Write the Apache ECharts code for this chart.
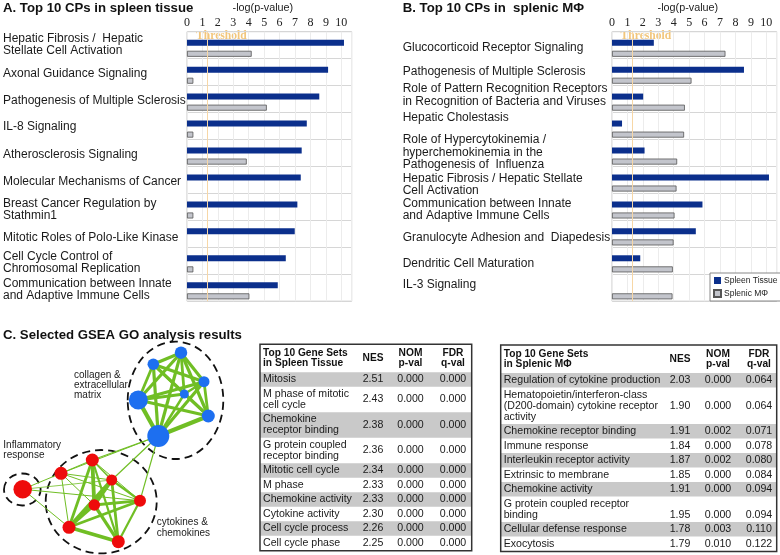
<!DOCTYPE html>
<html><head><meta charset="utf-8">
<script src="https://cdn.jsdelivr.net/npm/echarts@6/dist/echarts.min.js"></script>
<style>html,body{margin:0;padding:0;background:#fff}#c{width:780px;height:555px}</style>
</head><body><div id="c"></div>
<script>
// ---------- Panel A data ----------
const cpTissue = ["Hepatic Fibrosis /  Hepatic\nStellate Cell Activation", "Axonal Guidance Signaling", "Pathogenesis of Multiple Sclerosis", "IL-8 Signaling", "Atherosclerosis Signaling", "Molecular Mechanisms of Cancer", "Breast Cancer Regulation by\nStathmin1", "Mitotic Roles of Polo-Like Kinase", "Cell Cycle Control of\nChromosomal Replication", "Communication between Innate\nand Adaptive Immune Cells"];
const cpTissue_spleen = [10.17, 9.14, 8.57, 7.76, 7.43, 7.37, 7.15, 6.98, 6.40, 5.88];
const cpTissue_macro = [4.19, 0.41, 5.17, 0.41, 3.87, null, 0.41, null, 0.41, 4.04];
// ---------- Panel B data ----------
const cpMacro = ["Glucocorticoid Receptor Signaling", "Pathogenesis of Multiple Sclerosis", "Role of Pattern Recognition Receptors\nin Recognition of Bacteria and Viruses", "Hepatic Cholestasis", "Role of Hypercytokinemia /\nhyperchemokinemia in the\nPathogenesis of  Influenza", "Hepatic Fibrosis / Hepatic Stellate\nCell Activation", "Communication between Innate\nand Adaptive Immune Cells", "Granulocyte Adhesion and  Diapedesis", "Dendritic Cell Maturation", "IL-3 Signaling"];
const cpMacro_spleen = [2.71, 8.55, 2.02, 0.65, 2.11, 10.17, 5.86, 5.43, 1.83, null];
const cpMacro_macro = [7.35, 5.15, 4.72, 4.67, 4.22, 4.18, 4.05, 3.99, 3.94, 3.92];
const xTicks = [0, 1, 2, 3, 4, 5, 6, 7, 8, 9, 10];
const threshold = 1.3;
const seriesNames = ["Spleen Tissue", "Splenic MΦ"];
// ---------- Panel C tables ----------
const gsTissueHead = ["Top 10 Gene Sets\nin Spleen Tissue", "NES", "NOM\np-val", "FDR\nq-val"];
const gsTissueName = ["Mitosis", "M phase of mitotic\ncell cycle", "Chemokine\nreceptor binding", "G protein coupled\nreceptor binding", "Mitotic cell cycle", "M phase", "Chemokine activity", "Cytokine activity", "Cell cycle process", "Cell cycle phase"];
const gsTissueNES = ["2.51", "2.43", "2.38", "2.36", "2.34", "2.33", "2.33", "2.30", "2.26", "2.25"];
const gsTissueNOM = ["0.000", "0.000", "0.000", "0.000", "0.000", "0.000", "0.000", "0.000", "0.000", "0.000"];
const gsTissueFDR = ["0.000", "0.000", "0.000", "0.000", "0.000", "0.000", "0.000", "0.000", "0.000", "0.000"];
const gsMacroHead = ["Top 10 Gene Sets\nin Splenic MΦ", "NES", "NOM\np-val", "FDR\nq-val"];
const gsMacroName = ["Regulation of cytokine production", "Hematopoietin/interferon-class\n(D200-domain) cytokine receptor\nactivity", "Chemokine receptor binding", "Immune response", "Interleukin receptor activity", "Extrinsic to membrane", "Chemokine activity", "G protein coupled receptor\nbinding", "Cellular defense response", "Exocytosis"];
const gsMacroNES = ["2.03", "1.90", "1.91", "1.84", "1.87", "1.85", "1.91", "1.95", "1.78", "1.79"];
const gsMacroNOM = ["0.000", "0.000", "0.002", "0.000", "0.002", "0.000", "0.000", "0.000", "0.003", "0.010"];
const gsMacroFDR = ["0.064", "0.064", "0.071", "0.078", "0.080", "0.084", "0.094", "0.094", "0.110", "0.122"];
// ---------- Panel C network ----------
const netX = [181, 153.3, 204, 184.3, 138.3, 208.3, 158.3, 92.3, 61, 111.7, 22.7, 94.3, 140, 69, 118.3];
const netY = [352.7, 364.3, 381.7, 394, 400, 416, 436, 460, 473.3, 480, 489.3, 505, 500.7, 527.3, 541.7];
const netSize = [12.5, 11.5, 11, 9, 19, 13, 22, 13, 13, 11, 18.5, 11.5, 12, 13, 13];
const netGroup = ["collagen", "collagen", "collagen", "collagen", "collagen", "collagen", "collagen", "cytokine", "cytokine", "cytokine", "inflam", "cytokine", "cytokine", "cytokine", "cytokine"];
const netLinks = [
  [0,1,3.2],[0,2,3.2],[0,4,3.2],[0,5,3.2],[0,6,3.2],[0,3,2.8],[1,2,3.2],[1,3,2.8],[1,5,3.2],[1,6,3.2],[1,4,2.8],[2,4,3.2],[2,6,3.2],[2,5,2.8],[3,4,2.8],[3,6,2.4],[4,5,3.2],[4,6,4.2],[5,6,4.2],[2,3,2.4],[3,5,2.4],
  [7,11,3.8],[7,13,2.8],[7,14,2.2],[7,9,1.6],[7,8,1],[7,12,1],
  [9,11,3.8],[9,13,3.8],[9,14,2.8],[9,12,2.2],[9,8,1],
  [11,13,3.2],[11,14,3.2],[11,12,2.8],[11,8,1],
  [12,13,2.8],[12,14,2.2],[12,8,1],[13,14,3.8],[13,8,1],
  [10,8,1],[10,12,1],[10,13,1],[10,9,0.8],
  [6,7,1.2],[6,9,1.2],[6,12,1.2],[6,8,1]
];

const FF = "Liberation Sans";
const BLUE = "#0b2f8c", GRAY = "#c3c5cc";
const chart = echarts.init(document.getElementById('c'), null, {renderer: 'canvas'});

// label nudges (px, + = down) to follow the original typesetting
const labelShiftA = [-0.5, 2, 2, 0.5, 2, 2, 3, 3.5, 1.7, 1.7];
const labelShiftB = [2.7, -0.5, -4, -8.7, -0.6, 4.7, 2.7, 3.5, 2.5, -2.8];
function labelCfg(margin, shifts) {
  const rich = {};
  shifts.forEach((s, i) => {
    const h = Math.max(0.5, Math.abs(s) * 2);
    rich['sp' + i] = {fontSize: 1, lineHeight: h, height: h};
  });
  return {
    align: 'left', margin: margin, interval: 0, fontFamily: FF, fontSize: 12, lineHeight: 12.3, color: '#1a1a1a',
    rich: rich,
    formatter: (v, i) => {
      const s = shifts[i] || 0;
      if (Math.abs(s) < 0.3) return v;
      return s > 0 ? '{sp' + i + '| }\n' + v : v + '\n{sp' + i + '| }';
    }
  };
}
function xAxisCfg(gi) {
  return {
    type: 'value', gridIndex: gi, position: 'top', min: xTicks[0], max: 10.67, interval: 1,
    name: '-log(p-value)', nameLocation: 'middle', nameGap: 18,
    nameTextStyle: {fontFamily: FF, fontSize: 10.8, color: '#222', padding: [0, 13, 0, 0]},
    axisLine: {show: false}, axisTick: {show: false},
    axisLabel: {fontFamily: 'Liberation Serif', fontSize: 12, color: '#222', margin: 2.5, showMaxLabel: false,
      formatter: v => (xTicks.indexOf(v) >= 0 ? String(v) : '')},
    splitLine: {show: true, lineStyle: {color: '#ececec', width: 1}}
  };
}
function yAxisCfg(gi, names, margin, shifts) {
  return {
    type: 'category', gridIndex: gi, inverse: true, data: names,
    axisLine: {show: false}, axisTick: {show: false},
    axisLabel: labelCfg(margin, shifts),
    splitLine: {show: true, lineStyle: {color: '#d6d6d6', width: 1}}
  };
}
function barSeries(gi, spleen, macro) {
  return [
    {type: 'bar', name: 'spacer' + gi, xAxisIndex: gi, yAxisIndex: gi, barWidth: 3.3, barGap: '85%', silent: true,
      data: spleen.map(() => null), itemStyle: {color: 'rgba(0,0,0,0)'}},
    {type: 'bar', name: seriesNames[0], xAxisIndex: gi, yAxisIndex: gi, barWidth: 6, barGap: '85%', data: spleen,
      itemStyle: {color: BLUE},
      markLine: {silent: true, symbol: 'none', label: {show: false}, lineStyle: {color: '#f7d7a6', width: 1, type: 'solid'}, data: [{xAxis: threshold}]}},
    {type: 'bar', name: seriesNames[1], xAxisIndex: gi, yAxisIndex: gi, barWidth: 6, barGap: '85%', data: macro,
      itemStyle: {color: GRAY, borderColor: '#555', borderWidth: 0.8}}
  ];
}

// network graph data
const netColor = {collagen: '#1d6ff0', cytokine: '#ee0b0b', inflam: '#ee0b0b'};
const graphNodes = netX.map((x, i) => ({
  name: 'n' + i, value: [x, netY[i]], symbolSize: netSize[i],
  itemStyle: {color: netColor[netGroup[i]]}
}));
const graphLinks = netLinks.map(l => ({source: l[0], target: l[1], lineStyle: {width: l[2]}}));

// tables
function buildTable(x0, y0, w, head, names, cols, colX, bottomRows) {
  const els = [];
  const headH = 28;
  const lines = names.map(n => n.split('\n').length);
  const rowH = lines.map(k => k * 11 + 3.5);
  els.push({type: 'text', x: x0 + 3, y: y0 + headH / 2, style: {text: head[0], fontFamily: FF, fontWeight: 'bold', fontSize: 10.2, lineHeight: 10.2, fill: '#111', align: 'left', verticalAlign: 'middle'}});
  for (let c = 1; c < head.length; c++) {
    els.push({type: 'text', x: colX[c - 1], y: y0 + headH / 2, style: {text: head[c], fontFamily: FF, fontWeight: 'bold', fontSize: 10.2, lineHeight: 10.2, fill: '#111', align: 'center', verticalAlign: 'middle'}});
  }
  let y = y0 + headH;
  names.forEach((n, i) => {
    const h = rowH[i];
    if (i % 2 === 0) els.push({type: 'rect', shape: {x: x0, y: y, width: w, height: h}, style: {fill: '#c9c9c9'}, z: -1});
    const cy = y + h / 2;
    els.push({type: 'text', x: x0 + 3, y: cy, style: {text: n, fontFamily: FF, fontSize: 10.6, lineHeight: 11, fill: '#1a1a1a', align: 'left', verticalAlign: 'middle'}});
    const vy = bottomRows.indexOf(i) >= 0 ? cy + (lines[i] - 1) * 5.5 : cy;
    cols.forEach((col, c) => {
      els.push({type: 'text', x: colX[c], y: vy, style: {text: col[i], fontFamily: FF, fontSize: 10.6, fill: '#1a1a1a', align: 'center', verticalAlign: 'middle'}});
    });
    y += h;
  });
  els.push({type: 'rect', shape: {x: x0, y: y0, width: w, height: y - y0 + 0.5}, style: {fill: 'none', stroke: '#333', lineWidth: 1.5}});
  return els;
}

function txt(x, y, t, size, opts) {
  return {type: 'text', x: x, y: y, style: Object.assign({text: t, fontFamily: FF, fontSize: size, fill: '#111', align: 'left', verticalAlign: 'middle'}, opts || {})};
}
function ell(cx, cy, rx, ry) {
  return {type: 'ellipse', shape: {cx: cx, cy: cy, rx: rx, ry: ry}, style: {fill: 'none', stroke: '#111', lineWidth: 1.8, lineDash: [8, 5]}, z: 1};
}

const graphics = [
  txt(3, 8.5, 'A. Top 10 CPs in spleen tissue', 13.2, {fontWeight: 'bold'}),
  txt(402.7, 8.5, 'B. Top 10 CPs in  splenic MΦ', 13.2, {fontWeight: 'bold'}),
  txt(3, 335, 'C. Selected GSEA GO analysis results', 13.2, {fontWeight: 'bold'}),
  txt(74, 385, 'collagen &\nextracellular\nmatrix', 10, {lineHeight: 9.8, fill: '#222'}),
  txt(3.3, 450.3, 'Inflammatory\nresponse', 10, {lineHeight: 10.6, fill: '#222'}),
  txt(156.7, 528, 'cytokines &\nchemokines', 10, {lineHeight: 10.6, fill: '#222'}),
  ell(175.5, 400.3, 47.8, 58.7),
  ell(101.2, 501.7, 55.5, 51.7),
  ell(22.3, 489.5, 18.3, 16),
  ...buildTable(260, 344.3, 211.7, gsTissueHead, gsTissueName, [gsTissueNES, gsTissueNOM, gsTissueFDR], [373, 410.5, 453], []),
  ...buildTable(500.7, 345, 276, gsMacroHead, gsMacroName, [gsMacroNES, gsMacroNOM, gsMacroFDR], [680, 718, 759], [7])
];

const option = {
  animation: false,
  backgroundColor: '#fff',
  textStyle: {fontFamily: FF},
  grid: [
    {left: 187, top: 31.7, width: 164.7, height: 269.5, show: true, borderColor: '#c8c8c8', borderWidth: 1, backgroundColor: 'transparent'},
    {left: 612, top: 31.7, width: 164.7, height: 269.5, show: true, borderColor: '#c8c8c8', borderWidth: 1, backgroundColor: 'transparent'},
    {left: 0, top: 0, width: 250, height: 555, show: false}
  ],
  xAxis: [xAxisCfg(0), xAxisCfg(1), {type: 'value', gridIndex: 2, min: 0, max: 250, show: false}],
  yAxis: [yAxisCfg(0, cpTissue, 184, labelShiftA), yAxisCfg(1, cpMacro, 209.3, labelShiftB), {type: 'value', gridIndex: 2, min: 0, max: 555, inverse: true, show: false}],
  legend: {
    data: seriesNames, orient: 'vertical', left: 710, top: 273, padding: [3, 4, 3, 3], itemGap: 4,
    itemWidth: 7, itemHeight: 7, icon: 'rect', backgroundColor: '#fff', borderColor: '#888', borderWidth: 1,
    textStyle: {fontFamily: FF, fontSize: 8.5, color: '#222', padding: [0, 0, 0, -2]}, selectedMode: false
  },
  series: [
    ...barSeries(0, cpTissue_spleen, cpTissue_macro),
    ...barSeries(1, cpMacro_spleen, cpMacro_macro),
    {type: 'graph', coordinateSystem: 'cartesian2d', xAxisIndex: 2, yAxisIndex: 2, data: graphNodes, links: graphLinks,
      symbol: 'circle', lineStyle: {color: '#70be24', opacity: 1, curveness: 0}, label: {show: false}, silent: true, z: 2}
  ],
  graphic: graphics
};
chart.setOption(option);
const tA = chart.convertToPixel({xAxisIndex: 0}, threshold);
const tB = chart.convertToPixel({xAxisIndex: 1}, threshold);
const thrStyle = {fontFamily: 'Liberation Serif', fontWeight: 'bold', fontSize: 11.6, fill: '#f2c67c'};
chart.setOption({graphic: graphics.concat([txt(tA - 11, 36, 'Threshold', 11.6, thrStyle), txt(tB - 11.5, 35.8, 'Threshold', 11.6, thrStyle)])});
</script></body></html>
